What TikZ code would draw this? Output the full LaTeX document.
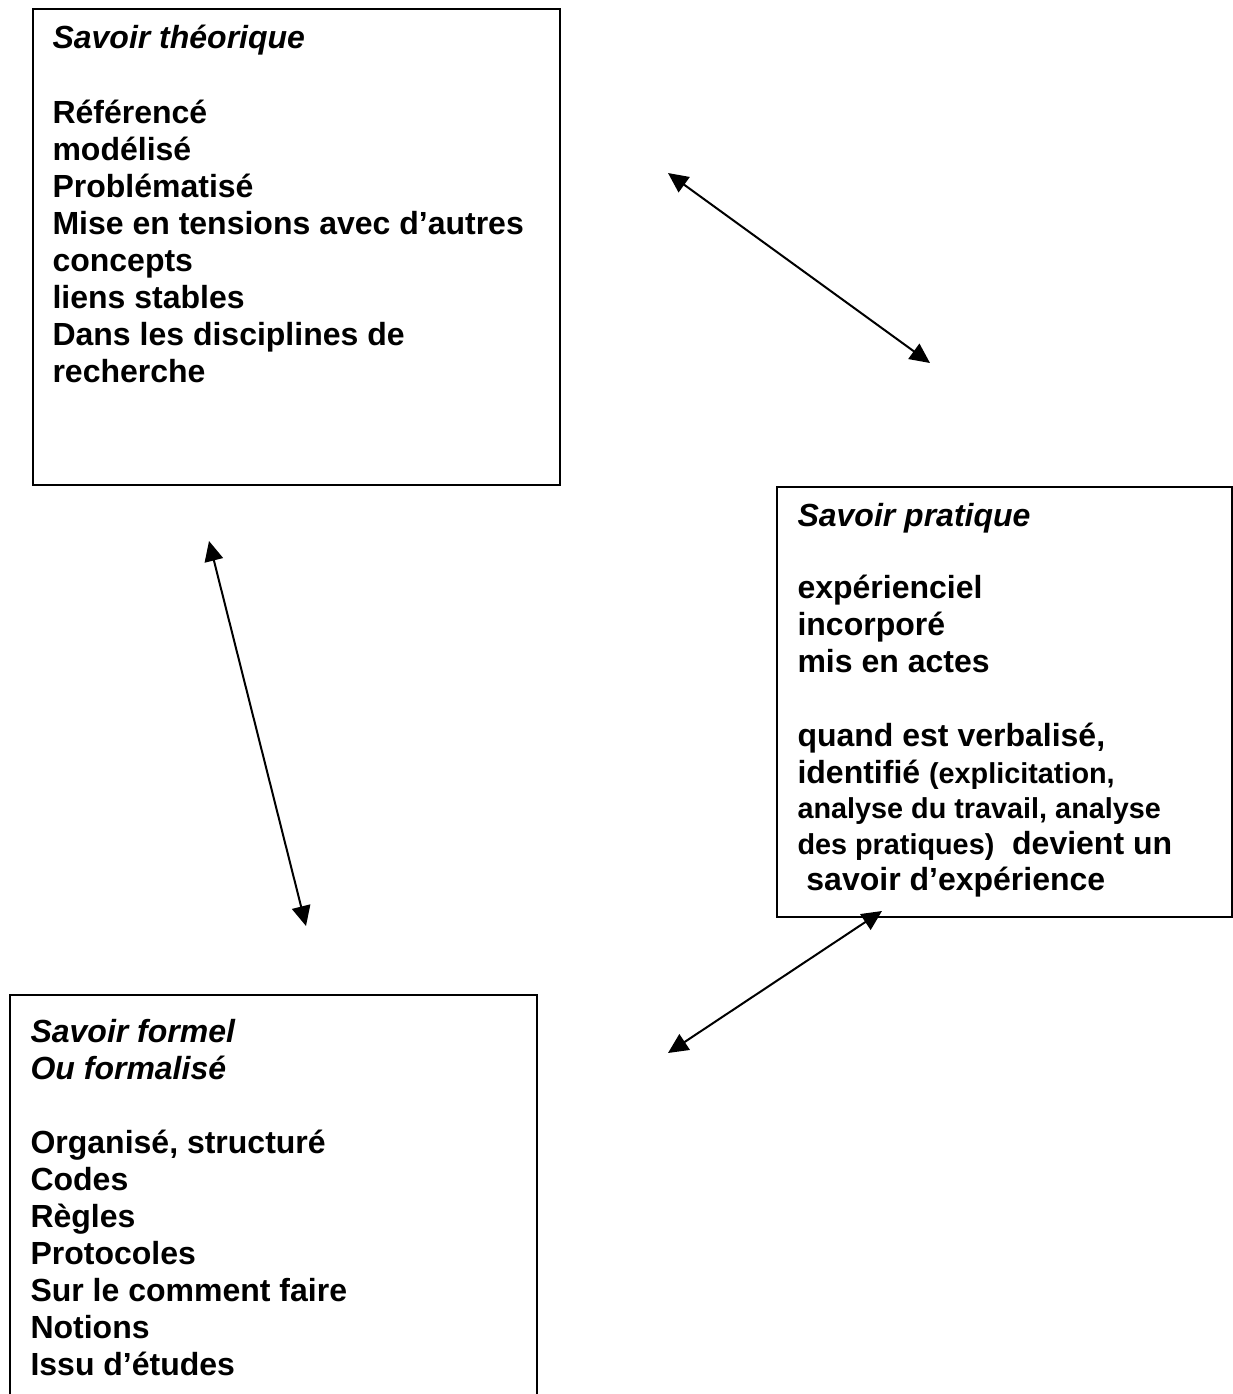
\documentclass[tikz,border=0pt]{standalone}
\usepackage{fontspec}
\setmainfont{Liberation Sans}
\usetikzlibrary{arrows.meta}
\begin{document}
\begin{tikzpicture}[x=0.375pt,y=-0.375pt,
  box/.style={draw,line width=0.75pt,inner sep=0pt,fill=none},
  txt/.style={anchor=base west,inner sep=0pt,font=\fontsize{12pt}{13.8pt}\selectfont\bfseries},
  ttl/.style={txt,font=\fontsize{12pt}{13.8pt}\selectfont\bfseries\itshape},
  link/.style={line width=0.75pt,{Triangle[length=7.5pt,width=7pt]}-{Triangle[length=7.5pt,width=7pt]}}]
\useasboundingbox (0,0) rectangle (1233,1394);
\clip (0,0) rectangle (1233,1394);
% boxes
\node[box,minimum width=197.625pt,minimum height=178.5pt] (theo) at (296.5,247) {};
\node[box,minimum width=170.625pt,minimum height=161.25pt] (prat) at (1004.5,702) {};
\node[box,minimum width=197.625pt,minimum height=165pt] (form) at (273.5,1215) {};
% box 1 text
\node[ttl] (t0) at (52,48) {Savoir théorique};
\node[txt] (t1) at (52,123) {Référencé};
\node[txt] (t2) at (52,160) {modélisé};
\node[txt] (t3) at (52,197) {Problématisé};
\node[txt] (t4) at (52,234) {Mise en tensions avec d’autres};
\node[txt] (t5) at (52,271) {concepts};
\node[txt] (t6) at (52,308) {liens stables};
\node[txt] (t7) at (52,345) {Dans les disciplines de};
\node[txt] (t8) at (52,382) {recherche};
% box 2 text
\node[ttl] (p0) at (797,526) {Savoir pratique};
\node[txt] (p1) at (797,598) {expérienciel};
\node[txt] (p2) at (797,635) {incorporé};
\node[txt] (p3) at (797,672) {mis en actes};
\node[txt] (p4) at (797,746) {quand est verbalisé,};
\node[txt] (p5) at (797,783) {identifié {\fontsize{10.8pt}{12pt}\selectfont (explicitation,}};
\node[txt] (p6) at (797,818) {\fontsize{10.8pt}{12pt}\selectfont analyse du travail, analyse};
\node[txt] (p7) at (797,854) {{\fontsize{10.8pt}{12pt}\selectfont des pratiques)}\ \ devient un};
\node[txt] (p8) at (797,890) {\ savoir d’expérience};
% box 3 text
\node[ttl] (f0) at (30,1042) {Savoir formel};
\node[ttl] (f1) at (30,1079) {Ou formalisé};
\node[txt] (f2) at (30,1153) {Organisé, structuré};
\node[txt] (f3) at (30,1190) {Codes};
\node[txt] (f4) at (30,1227) {Règles};
\node[txt] (f5) at (30,1264) {Protocoles};
\node[txt] (f6) at (30,1301) {Sur le comment faire};
\node[txt] (f7) at (30,1338) {Notions};
\node[txt] (f8) at (30,1375) {Issu d’études};
% arrow ends
\coordinate (a1s) at (668,173);
\coordinate (a1e) at (930,363);
\coordinate (a2s) at (209,541);
\coordinate (a2e) at (306,926);
\coordinate (a3s) at (882,911);
\coordinate (a3e) at (668,1053);
\draw[link] (a1s) -- (a1e);
\draw[link] (a2s) -- (a2e);
\draw[link] (a3s) -- (a3e);
\end{tikzpicture}
\end{document}
